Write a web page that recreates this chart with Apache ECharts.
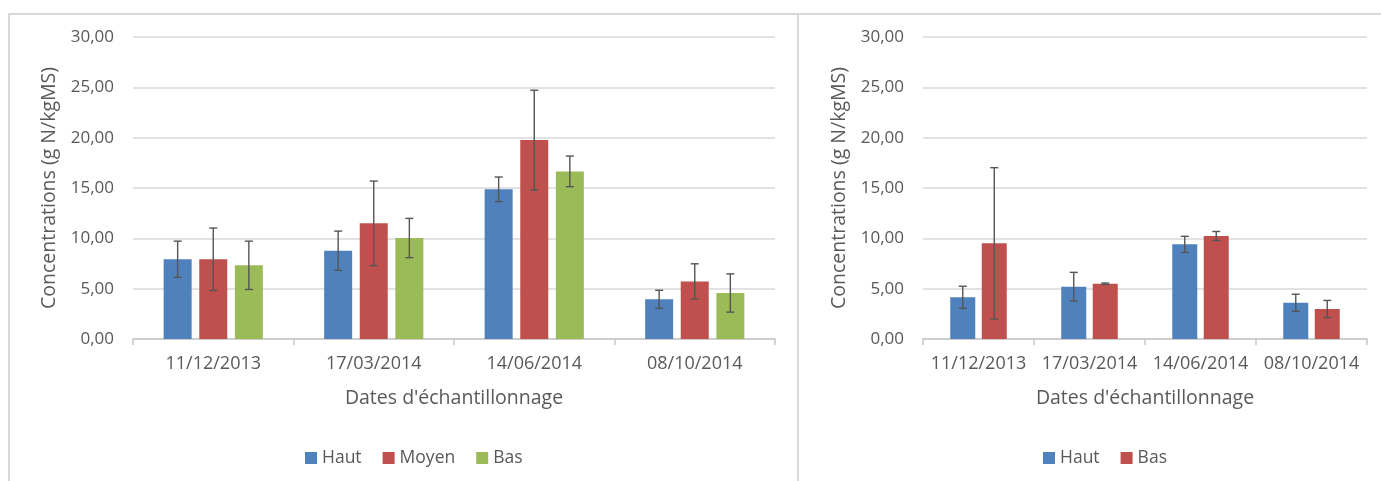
<!DOCTYPE html>
<html>
<head>
<meta charset="utf-8">
<script src="https://cdn.jsdelivr.net/npm/echarts@6/dist/echarts.min.js"></script>
<style>
html,body{margin:0;padding:0;background:#fff;width:1381px;height:481px;overflow:hidden;position:relative;}
#frame{position:absolute;left:8px;top:13px;width:1400px;height:500px;border-left:2px solid #D9D9D9;border-top:2px solid #D9D9D9;}
#divider{position:absolute;left:797px;top:13px;width:2px;height:500px;background:#D9D9D9;}
#c1{position:absolute;left:0;top:0;width:798px;height:481px;}
#c2{position:absolute;left:798px;top:0;width:583px;height:481px;}
</style>
</head>
<body>
<div id="frame"></div>
<div id="divider"></div>
<div id="c1"></div>
<div id="c2"></div>
<script>
// ---- data ----
const dates = ['11/12/2013', '17/03/2014', '14/06/2014', '08/10/2014'];
const yTicks = [0, 5, 10, 15, 20, 25, 30];

const hautL = [7.92, 8.77, 14.87, 3.94];
const hautLErr = [1.80, 1.95, 1.22, 0.90];
const moyenL = [7.92, 11.49, 19.76, 5.72];
const moyenLErr = [3.10, 4.20, 4.95, 1.75];
const basL = [7.32, 10.03, 16.65, 4.57];
const basLErr = [2.40, 1.95, 1.52, 1.90];

const hautR = [4.14, 5.20, 9.40, 3.60];
const hautRErr = [1.10, 1.42, 0.80, 0.85];
const basR = [9.50, 5.49, 10.23, 2.98];
const basRErr = [7.52, 0.07, 0.45, 0.85];

// ---- style ----
const FONT = 'Open Sans';
const TXT = '#595959';
const COLORS = {Haut: '#4F81BD', Moyen: '#C0504D', Bas: '#9BBB59'};

function fmt(v) { return v.toFixed(2).replace('.', ','); }

function errSeries(vals, errs, offset) {
  return {
    type: 'custom',
    silent: true, z: 10,
    data: vals.map((v, i) => [i, v, errs[i]]),
    renderItem: function (params, api) {
      const i = api.value(0), v = api.value(1), e = api.value(2);
      const top = api.coord([i, v + e]);
      const bot = api.coord([i, v - e]);
      const x = top[0] + offset;
      const cap = 4;
      const st = {stroke: '#555555', lineWidth: 1.4};
      return {type: 'group', children: [
        {type: 'line', shape: {x1: x, y1: top[1], x2: x, y2: bot[1]}, style: st},
        {type: 'line', shape: {x1: x - cap, y1: top[1], x2: x + cap, y2: top[1]}, style: st},
        {type: 'line', shape: {x1: x - cap, y1: bot[1], x2: x + cap, y2: bot[1]}, style: st}
      ]};
    }
  };
}

function makeOption(grid, seriesDefs, bw, gapPx, legendLeft, legendNames) {
  const n = seriesDefs.length;
  const series = [];
  seriesDefs.forEach((s) => {
    series.push({
      name: s.name, type: 'bar', data: s.vals,
      barWidth: bw, barGap: (gapPx / bw * 100) + '%',
      itemStyle: {color: s.color}
    });
  });
  seriesDefs.forEach((s, k) => {
    const off = (k - (n - 1) / 2) * (bw + gapPx);
    series.push(errSeries(s.vals, s.errs, off));
  });
  return {
    animation: false,
    textStyle: {fontFamily: FONT},
    grid: grid,
    legend: {
      data: legendNames.map(nm => ({name: nm, itemStyle: {color: seriesDefs.find(s => s.name === nm).color}})),
      left: legendLeft, top: 449, padding: 0,
      icon: 'rect', itemWidth: 12, itemHeight: 12, itemGap: 21,
      textStyle: {fontFamily: FONT, fontSize: 17.5, color: TXT}
    },
    xAxis: {
      type: 'category', data: dates,
      name: "Dates d'échantillonnage", nameLocation: 'middle', nameGap: 49,
      nameTextStyle: {fontFamily: FONT, fontSize: 19.5, color: TXT},
      axisLine: {lineStyle: {color: '#C8C8C8', width: 1.5}},
      axisTick: {show: true, length: 6, lineStyle: {color: '#C8C8C8', width: 1.5}},
      axisLabel: {fontFamily: FONT, fontSize: 18, color: TXT, margin: 16, interval: 0}
    },
    yAxis: {
      type: 'value', min: 0, max: 30, interval: 5,
      name: 'Concentrations (g N/kgMS)', nameLocation: 'middle', nameGap: 73,
      nameTextStyle: {fontFamily: FONT, fontSize: 19.5, color: TXT},
      axisLine: {show: false}, axisTick: {show: false},
      splitLine: {lineStyle: {color: '#D9D9D9', width: 1.5}},
      axisLabel: {fontFamily: FONT, fontSize: 17, color: TXT, margin: 19, formatter: fmt}
    },
    series: series
  };
}

const c1 = echarts.init(document.getElementById('c1'));
c1.setOption(makeOption(
  {left: 133, right: 798 - 775, top: 37, bottom: 481 - 339},
  [
    {name: 'Haut', vals: hautL, errs: hautLErr, color: COLORS.Haut},
    {name: 'Moyen', vals: moyenL, errs: moyenLErr, color: COLORS.Moyen},
    {name: 'Bas', vals: basL, errs: basLErr, color: COLORS.Bas}
  ], 28, 7.6, 305, ['Haut', 'Moyen', 'Bas']));

const c2 = echarts.init(document.getElementById('c2'));
c2.setOption(makeOption(
  {left: 923 - 798, right: 1381 - 1367, top: 37, bottom: 481 - 339},
  [
    {name: 'Haut', vals: hautR, errs: hautRErr, color: COLORS.Haut},
    {name: 'Bas', vals: basR, errs: basRErr, color: COLORS.Moyen}
  ], 25, 6.5, 1043 - 798, ['Haut', 'Bas']));
</script>
</body>
</html>
